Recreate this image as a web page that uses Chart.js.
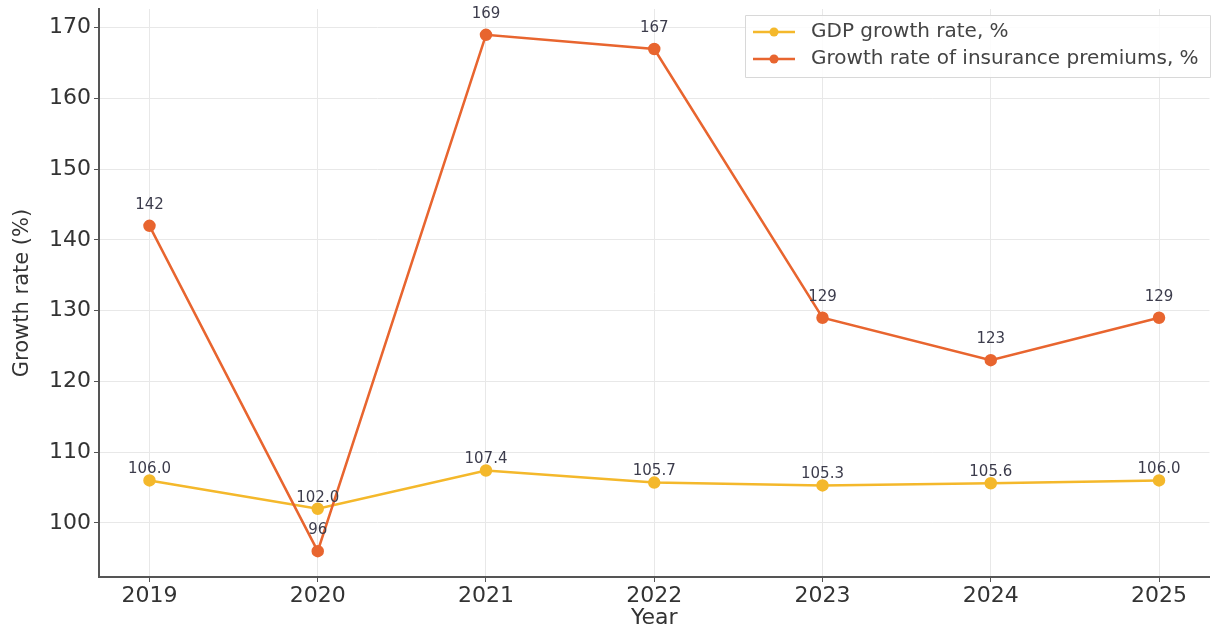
<!DOCTYPE html>
<html>
<head>
<meta charset="utf-8">
<script src="https://cdn.jsdelivr.net/npm/chart.js@4.4.1/dist/chart.umd.min.js"></script>
<style>
  html, body { margin: 0; padding: 0; background: #fff; }
  #wrap { width: 1217px; height: 631px; }
</style>
</head>
<body>
<div id="wrap"><canvas id="chart"></canvas></div>
<script>
// Values
const years = [2019, 2020, 2021, 2022, 2023, 2024, 2025];
const gdpGrowth = [106.0, 102.0, 107.4, 105.7, 105.3, 105.6, 106.0];
const premiumGrowth = [142, 96, 169, 167, 129, 123, 129];
const yTicks = [100, 110, 120, 130, 140, 150, 160, 170];

const gdpLabel = 'GDP growth rate, %';
const premiumLabel = 'Growth rate of insurance premiums, %';

const FONT = '"DejaVu Sans", sans-serif';
const TEXT = '#333';

// value text above each point
const pointLabels = {
  id: 'pointLabels',
  afterDatasetsDraw(chart) {
    const ctx = chart.ctx;
    ctx.save();
    ctx.font = '15px ' + FONT;
    ctx.fillStyle = '#3c3c4c';
    ctx.textAlign = 'center';
    ctx.textBaseline = 'middle';
    chart.data.datasets.forEach((ds, i) => {
      const meta = chart.getDatasetMeta(i);
      meta.data.forEach((pt, j) => {
        const txt = ds.decimals ? ds.data[j].y.toFixed(ds.decimals) : String(ds.data[j].y);
        ctx.fillText(txt, pt.x, pt.y - ds.labelOffset);
      });
    });
    ctx.restore();
  }
};

// legend box in the top right corner, drawn like the reference
const boxLegend = {
  id: 'boxLegend',
  afterDraw(chart) {
    const ctx = chart.ctx;
    const x0 = 745, y0 = 15, w = 465, h = 62;
    ctx.save();
    ctx.fillStyle = 'rgba(255,255,255,0.85)';
    ctx.strokeStyle = '#d8d8d8';
    ctx.lineWidth = 1;
    ctx.beginPath();
    ctx.rect(x0 + 0.5, y0 + 0.5, w, h);
    ctx.fill();
    ctx.stroke();
    ctx.font = '20px ' + FONT;
    ctx.textBaseline = 'middle';
    chart.data.datasets.forEach((ds, i) => {
      const cy = y0 + 17 + i * 27;
      ctx.strokeStyle = ds.borderColor;
      ctx.lineWidth = 2.5;
      ctx.beginPath();
      ctx.moveTo(x0 + 8, cy);
      ctx.lineTo(x0 + 50, cy);
      ctx.stroke();
      ctx.fillStyle = ds.borderColor;
      ctx.beginPath();
      ctx.arc(x0 + 29, cy, 4.5, 0, Math.PI * 2);
      ctx.fill();
      ctx.fillStyle = '#444';
      ctx.fillText(ds.label, x0 + 66, cy);
    });
    ctx.restore();
  }
};

const toPoints = arr => arr.map((v, i) => ({ x: years[i], y: v }));

new Chart(document.getElementById('chart'), {
  type: 'line',
  data: {
    datasets: [
      {
        label: gdpLabel,
        data: toPoints(gdpGrowth),
        borderColor: '#f4b82b',
        backgroundColor: '#f4b82b',
        borderWidth: 2.5,
        pointRadius: 5,
        pointHoverRadius: 5,
        tension: 0,
        order: 1,
        decimals: 1,
        labelOffset: 11
      },
      {
        label: premiumLabel,
        data: toPoints(premiumGrowth),
        borderColor: '#e8652f',
        backgroundColor: '#e8652f',
        borderWidth: 2.5,
        pointRadius: 5,
        pointHoverRadius: 5,
        tension: 0,
        order: 0,
        decimals: 0,
        labelOffset: 21
      }
    ]
  },
  options: {
    responsive: true,
    maintainAspectRatio: false,
    animation: false,
    layout: { padding: { top: 9, right: 2, left: 0, bottom: 0 } },
    plugins: {
      legend: { display: false },
      tooltip: { enabled: false }
    },
    scales: {
      x: {
        type: 'linear',
        min: 2018.7,
        max: 2025.3,
        afterBuildTicks: axis => { axis.ticks = years.map(v => ({ value: v })); },
        afterFit: axis => { axis.height = 54; axis.paddingLeft = 0; axis.paddingRight = 0; },
        border: { color: '#555', width: 2 },
        grid: { color: '#e8e8e8', lineWidth: 1, tickColor: '#555', tickLength: 5 },
        ticks: {
          color: TEXT,
          font: { family: FONT, size: 22 },
          padding: 1,
          maxRotation: 0,
          callback: v => String(v)
        },
        title: {
          display: true,
          text: 'Year',
          color: TEXT,
          font: { family: FONT, size: 22 },
          padding: { top: 0, bottom: 0 }
        }
      },
      y: {
        min: 92.35,
        max: 172.65,
        afterBuildTicks: axis => { axis.ticks = yTicks.map(v => ({ value: v })); },
        afterFit: axis => { axis.width = 99; axis.paddingTop = 0; axis.paddingBottom = 0; },
        border: { color: '#555', width: 2 },
        grid: { color: '#e8e8e8', lineWidth: 1, tickColor: '#555', tickLength: 5 },
        ticks: {
          color: TEXT,
          font: { family: FONT, size: 22 },
          padding: 3
        },
        title: {
          display: true,
          text: 'Growth rate (%)',
          color: TEXT,
          font: { family: FONT, size: 21 },
          padding: { top: 10, bottom: 4 }
        }
      }
    }
  },
  plugins: [pointLabels, boxLegend]
});
</script>
</body>
</html>
